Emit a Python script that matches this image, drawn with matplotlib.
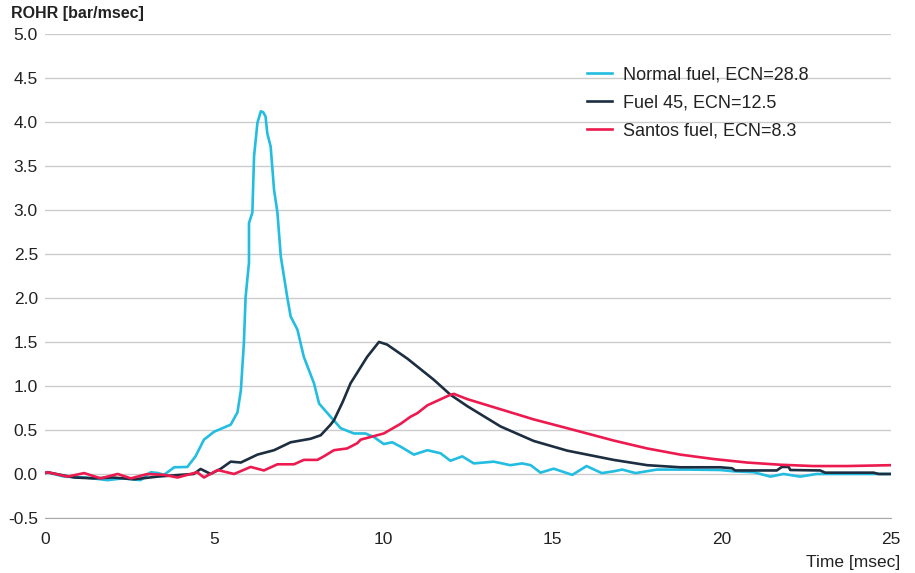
import numpy as np
import matplotlib
matplotlib.use('Agg')
from matplotlib import pyplot as plt

plt.rcParams['font.family'] = ['Liberation Sans', 'DejaVu Sans']

# Normal fuel, ECN=28.8
t_normal = [0.0, 0.1, 0.57, 1.2, 1.85, 2.3, 2.83, 3.13, 3.35, 3.52, 3.82, 4.21, 4.45,
            4.70, 5.0, 5.49, 5.69, 5.79, 5.88, 5.93, 6.03, 6.03, 6.13, 6.18, 6.28,
            6.38, 6.45, 6.52, 6.57, 6.67, 6.77, 6.87, 6.97, 7.16, 7.26, 7.46, 7.65,
            7.95, 8.10, 8.44, 8.74, 9.13, 9.47, 9.72, 10.01, 10.26, 10.51, 10.9,
            11.30, 11.69, 11.98, 12.33, 12.67, 13.26, 13.75, 14.1, 14.35, 14.64,
            15.03, 15.58, 16.0, 16.45, 16.8, 17.05, 17.45, 18.08, 19.0, 19.95,
            20.35, 20.94, 21.43, 21.82, 22.31, 22.8, 24.8, 25.0]
y_normal = [0.01, 0.015, -0.03, -0.04, -0.07, -0.05, -0.07, 0.02, 0.01, -0.01, 0.076,
            0.08, 0.2, 0.39, 0.48, 0.56, 0.70, 0.95, 1.49, 2.01, 2.40, 2.85, 2.97,
            3.61, 3.99, 4.12, 4.11, 4.06, 3.87, 3.72, 3.23, 2.97, 2.47, 2.01, 1.79,
            1.64, 1.33, 1.03, 0.80, 0.65, 0.52, 0.46, 0.46, 0.42, 0.34, 0.36, 0.31,
            0.22, 0.27, 0.235, 0.15, 0.20, 0.12, 0.14, 0.10, 0.12, 0.10, 0.015,
            0.06, -0.01, 0.09, 0.01, 0.03, 0.05, 0.01, 0.05, 0.05, 0.045, 0.03,
            0.02, -0.03, 0.0, -0.03, 0.0, 0.0, 0.0]

# Fuel 45, ECN=12.5
t_fuel45 = [0.0, 0.08, 0.47, 0.87, 1.45, 2.0, 2.64, 3.33, 4.0, 4.4, 4.6, 4.9, 5.2,
            5.49, 5.79, 6.28, 6.77, 7.26, 7.85, 8.15, 8.44, 8.54, 8.8, 9.03, 9.52,
            9.87, 10.11, 10.41, 10.71, 11.49, 11.98, 12.48, 13.46, 14.44, 15.43,
            16.41, 16.8, 17.79, 18.77, 19.95, 20.3, 20.39, 21.62, 21.77, 21.97,
            22.02, 22.9, 23.05, 24.48, 24.63, 25.0]
y_fuel45 = [0.01, 0.02, -0.01, -0.04, -0.05, -0.04, -0.06, -0.03, -0.01, 0.0, 0.057,
            0.0, 0.06, 0.14, 0.13, 0.22, 0.27, 0.36, 0.40, 0.44, 0.56, 0.61, 0.82,
            1.03, 1.33, 1.50, 1.47, 1.39, 1.31, 1.07, 0.90, 0.77, 0.54, 0.375,
            0.265, 0.19, 0.16, 0.10, 0.076, 0.076, 0.065, 0.04, 0.04, 0.08, 0.08,
            0.045, 0.04, 0.015, 0.015, 0.0, 0.0]

# Santos fuel, ECN=8.3
t_santos = [0.0, 0.08, 0.67, 1.16, 1.65, 2.15, 2.54, 3.03, 3.52, 3.92, 4.5, 4.70,
            5.10, 5.59, 6.08, 6.47, 6.87, 7.36, 7.65, 8.05, 8.24, 8.54, 8.93, 9.23,
            9.33, 10.01, 10.51, 10.80, 11.0, 11.3, 11.98, 12.08, 12.48, 13.46,
            14.44, 15.43, 16.41, 16.8, 17.79, 18.77, 19.75, 20.74, 21.72, 22.7,
            23.69, 25.0]
y_santos = [0.01, 0.02, -0.03, 0.01, -0.05, 0.0, -0.05, 0.0, -0.01, -0.04, 0.02,
            -0.04, 0.045, 0.0, 0.08, 0.04, 0.11, 0.11, 0.16, 0.16, 0.20, 0.27,
            0.29, 0.35, 0.39, 0.46, 0.57, 0.65, 0.69, 0.78, 0.90, 0.91, 0.85,
            0.735, 0.62, 0.52, 0.42, 0.38, 0.29, 0.22, 0.17, 0.13, 0.105, 0.09,
            0.09, 0.10]

labels = ['Normal fuel, ECN=28.8', 'Fuel 45, ECN=12.5', 'Santos fuel, ECN=8.3']
colors = ['#22bde0', '#1c2e40', '#ec1a4e']

fig = plt.figure(figsize=(9.15, 5.73), dpi=100)
ax = fig.add_axes([0.049, 0.096, 0.925, 0.845])

for t, y, lab, c in zip([t_normal, t_fuel45, t_santos],
                        [y_normal, y_fuel45, y_santos], labels, colors):
    ax.plot(t, y, color=c, lw=1.9, label=lab, solid_joinstyle='round')

ax.set_xlim(0, 25)
ax.set_ylim(-0.5, 5.0)
ax.set_xticks([0, 5, 10, 15, 20, 25])
ax.set_yticks(np.arange(-0.5, 5.01, 0.5))
ax.set_yticklabels(['%.1f' % v for v in np.arange(-0.5, 5.01, 0.5)])
ax.grid(axis='y', color='#cccccc', lw=1)
ax.set_axisbelow(True)
for s in ['top', 'right', 'left']:
    ax.spines[s].set_visible(False)
ax.spines['bottom'].set_color('#aaaaaa')
ax.tick_params(length=0, labelsize=12.5, colors='#222222', pad=5)
ax.tick_params(axis='x', pad=10)

fig.text(0.012, 0.976, 'ROHR [bar/msec]', fontsize=11.5, fontweight='bold',
         color='#222222', va='center', ha='left')
fig.text(0.984, 0.019, 'Time [msec]', fontsize=12.5, color='#222222',
         ha='right', va='center')

ax.legend(loc='upper left', bbox_to_anchor=(0.621, 0.967), frameon=False,
          fontsize=13, handlelength=1.4, handletextpad=0.6, labelspacing=0.62,
          labelcolor='#222222')

fig.savefig('out.png', dpi=100)
